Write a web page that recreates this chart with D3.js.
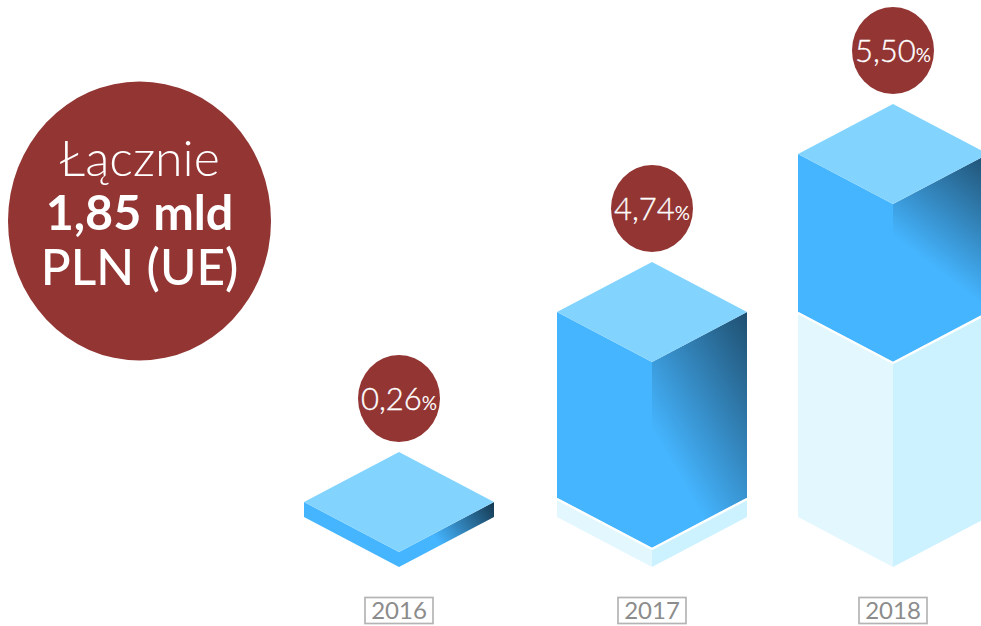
<!DOCTYPE html>
<html lang="pl">
<head>
<meta charset="utf-8">
<script src="https://cdn.jsdelivr.net/npm/d3@7/dist/d3.min.js"></script>
<style>
  html, body { margin: 0; background: #fff; }
  svg { display: block; font-family: Lato, "Open Sans", sans-serif; }
</style>
</head>
<body>
<div id="chart"></div>
<script>
// Yearly shares, and the level each block starts from on the stacked axis
const years = ["2016", "2017", "2018"];
const shares = [0.26, 4.74, 5.50];
const starts = [0, 0.33, 5.07];
const shareLabels = ["0,26", "4,74", "5,50"];
const totalLines = ["Łącznie", "1,85 mld", "PLN (UE)"];

const width = 981, height = 626;
const baseline = 567, halfW = 95, halfH = 50;

const colors = {
  top: "#82d4ff", left: "#45b5ff", ghostLeft: "#e3f7ff", ghostRight: "#cdf2ff",
  badge: "#923533", labelText: "#8c8c8c", labelBorder: "#b4b4b4"
};

const x = d3.scaleOrdinal().domain(years).range([399, 652, 893]);

// The axis is stretched unevenly, so the level scale is piecewise
const y = d3.scaleLinear()
  .domain([0, 0.26, 0.33, 5.07, 10.57])
  .range([baseline, baseline - 15, baseline - 19, baseline - 205, baseline - 363]);

// Shading vector on the right face per year: shift from the top right corner
const shade = { "2016": [-56, 40], "2017": [-122, 71], "2018": [-75, 97] };
const shadeDark = { "2016": "#143850", "2017": "#1f4f70", "2018": "#1f4f70" };

const bars = years.map((year, i) => ({
  year, share: shares[i], label: shareLabels[i], start: starts[i], end: starts[i] + shares[i]
}));

const svg = d3.select("#chart").append("svg").attr("width", width).attr("height", height);
const defs = svg.append("defs");
const poly = pts => pts.map(p => p.join(",")).join(" ");

bars.forEach(d => {
  const cx = x(d.year), yEnd = y(d.end);
  const g = defs.append("linearGradient").attr("id", "shade" + d.year)
    .attr("gradientUnits", "userSpaceOnUse")
    .attr("x1", cx + halfW).attr("y1", yEnd - halfH)
    .attr("x2", cx + halfW + shade[d.year][0]).attr("y2", yEnd - halfH + shade[d.year][1]);
  g.append("stop").attr("offset", 0).attr("stop-color", shadeDark[d.year]);
  g.append("stop").attr("offset", 1).attr("stop-color", colors.left);
});

const block = svg.selectAll("g.block").data(bars).join("g").attr("class", "block");

// Pale column below each block
block.filter(d => d.start > 0).each(function (d) {
  const g = d3.select(this), cx = x(d.year), y0 = y(0), y1 = y(d.start);
  g.append("polygon").attr("fill", colors.ghostLeft)
    .attr("points", poly([[cx - halfW, y1 - halfH], [cx, y1], [cx, y0], [cx - halfW, y0 - halfH]]));
  g.append("polygon").attr("fill", colors.ghostRight)
    .attr("points", poly([[cx, y1], [cx + halfW, y1 - halfH], [cx + halfW, y0 - halfH], [cx, y0]]));
});

// Blue block: left face, shaded right face, top
block.each(function (d) {
  const g = d3.select(this), cx = x(d.year), y0 = y(d.start), y1 = y(d.end);
  g.append("polygon").attr("fill", colors.left)
    .attr("points", poly([[cx - halfW, y1 - halfH], [cx, y1], [cx, y0], [cx - halfW, y0 - halfH]]));
  g.append("polygon").attr("fill", `url(#shade${d.year})`)
    .attr("points", poly([[cx, y1], [cx + halfW, y1 - halfH], [cx + halfW, y0 - halfH], [cx, y0]]));
  g.append("polygon").attr("fill", colors.top)
    .attr("points", poly([[cx, y1 - 2 * halfH], [cx + halfW, y1 - halfH], [cx, y1], [cx - halfW, y1 - halfH]]));
});

// White seam where a block sits on its pale column
block.filter(d => d.start > 0).append("polyline")
  .attr("fill", "none").attr("stroke", "#fff").attr("stroke-width", 2.4)
  .attr("points", d => {
    const cx = x(d.year), s = y(d.start) + 1;
    return poly([[cx - halfW, s - halfH], [cx, s], [cx + halfW, s - halfH]]);
  });

// Percentage badges above the blocks
const badge = svg.selectAll("g.badge").data(bars).join("g").attr("class", "badge")
  .attr("transform", d => `translate(${x(d.year)},${y(d.end) - 2 * halfH - 53.5})`);
badge.append("ellipse").attr("rx", 41).attr("ry", 43.5).attr("fill", colors.badge);
const badgeText = badge.append("text").attr("text-anchor", "middle").attr("y", 11).attr("fill", "#fff");
badgeText.append("tspan").attr("font-size", 31).attr("font-weight", 300)
  .attr("stroke", "#fff").attr("stroke-width", 0.35).text(d => d.label);
badgeText.append("tspan").attr("font-size", 19).attr("font-weight", 400).text("%");

// Year labels in outlined boxes
const tag = svg.selectAll("g.tag").data(bars).join("g").attr("class", "tag")
  .attr("transform", d => `translate(${x(d.year)},610.5)`);
tag.append("rect").attr("x", -34).attr("y", -13).attr("width", 68).attr("height", 26)
  .attr("fill", "#fff").attr("stroke", colors.labelBorder).attr("stroke-width", 1.7);
tag.append("text").attr("text-anchor", "middle").attr("y", 8.5).attr("font-size", 24)
  .attr("fill", colors.labelText).text(d => d.year);

// Summary bubble on the left
const total = svg.append("g").attr("transform", "translate(139.5,221)");
total.append("ellipse").attr("rx", 131.5).attr("ry", 139.5).attr("fill", colors.badge);
const totalStyles = [
  { y: -45, size: 50, weight: 300 },
  { y: 9, size: 48.5, weight: 700 },
  { y: 64, size: 49.5, weight: 500 }
];
total.selectAll("text").data(totalLines).join("text")
  .attr("text-anchor", "middle").attr("fill", "#fff")
  .attr("y", (d, i) => totalStyles[i].y)
  .attr("font-size", (d, i) => totalStyles[i].size)
  .attr("font-weight", (d, i) => totalStyles[i].weight)
  .text(d => d);
</script>
</body>
</html>
